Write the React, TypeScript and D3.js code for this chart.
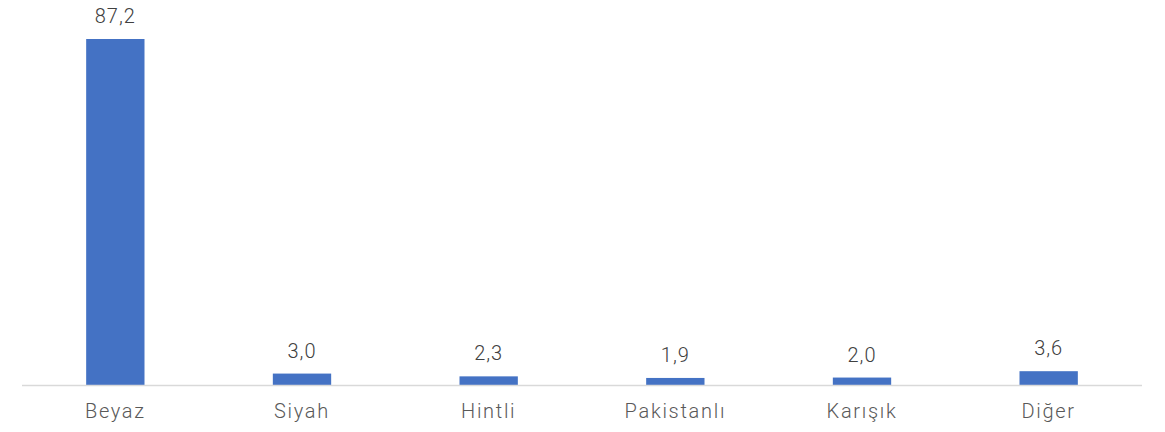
import React from "react";
import * as d3 from "d3";

const categories = ["Beyaz", "Siyah", "Hintli", "Pakistanlı", "Karışık", "Diğer"];
const values = [87.2, 3.0, 2.3, 1.9, 2.0, 3.6];
const valueLabels = ["87,2", "3,0", "2,3", "1,9", "2,0", "3,6"];

const W = 1165;
const H = 432;
const FONT = "Roboto, 'DejaVu Sans', sans-serif";

export default function App() {
  const x = d3
    .scaleBand<string>()
    .domain(categories)
    .range([22, 1142])
    .paddingInner(0.6875)
    .paddingOuter(0.34375);
  const y = d3.scaleLinear().domain([0, 87.2]).range([385.5, 39]);

  return (
    <svg
      width={W}
      height={H}
      style={{ position: "absolute", left: 0, top: 0, background: "#fff" }}
    >
      {categories.map((c, i) => (
        <rect
          key={c}
          x={x(c)!}
          y={y(values[i])}
          width={x.bandwidth()}
          height={y(0) - y(values[i])}
          fill="#4472C4"
        />
      ))}
      <line x1={22} x2={1142} y1={385.5} y2={385.5} stroke="#D9D9D9" strokeWidth={1.5} />
      {categories.map((c, i) => (
        <text
          key={"v" + c}
          x={x(c)! + x.bandwidth() / 2}
          y={y(values[i]) - 16}
          textAnchor="middle"
          fontFamily={FONT}
          fontSize={20}
          fontWeight={300}
          letterSpacing={1}
          fill="#404040"
        >
          {valueLabels[i]}
        </text>
      ))}
      {categories.map((c) => (
        <text
          key={"c" + c}
          x={x(c)! + x.bandwidth() / 2}
          y={418}
          textAnchor="middle"
          fontFamily={FONT}
          fontSize={20}
          fontWeight={300}
          letterSpacing={1.7}
          fill="#595959"
        >
          {c}
        </text>
      ))}
    </svg>
  );
}
